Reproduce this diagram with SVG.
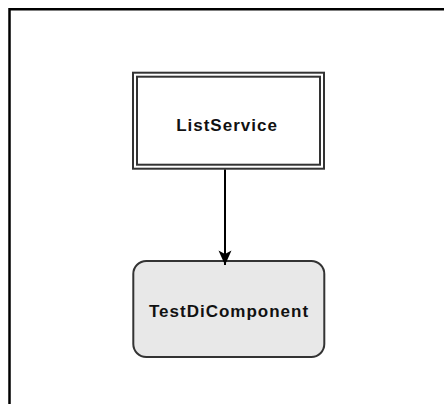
<svg xmlns="http://www.w3.org/2000/svg" width="444" height="404" viewBox="0 0 444 404">
<style>
.lbl{font-family:"Liberation Sans",Arial,sans-serif;font-size:17px;font-weight:bold;letter-spacing:1px;fill:#111;text-anchor:middle}
.b{fill:none;stroke:#333;stroke-width:2}
</style>
<defs>
<marker id="arr" markerWidth="16" markerHeight="14" refX="15" refY="7" orient="auto" markerUnits="userSpaceOnUse" viewBox="0 0 16 14">
<path d="M0.5,0.5 L15,7 L0.5,13.5 L4,7 Z" fill="#000"/>
</marker>
</defs>
<rect width="444" height="404" fill="#fff"/>
<path d="M9.5,404 V9.3 H444" fill="none" stroke="#000" stroke-width="2.5"/>
<g id="ListService">
<rect x="133" y="72.7" width="191" height="96" fill="#fff" class="b"/>
<rect x="137" y="76.7" width="183" height="88" class="b"/>
<text x="227" y="131" class="lbl">ListService</text>
</g>
<g id="TestDiComponent">
<rect x="133.3" y="261" width="191" height="96" rx="13" ry="13" fill="#e8e8e8" stroke="#333" stroke-width="2"/>
<text x="229" y="317" class="lbl">TestDiComponent</text>
</g>
<g id="connectors">
<line x1="225" y1="169.5" x2="225" y2="265" stroke="#000" stroke-width="2" marker-end="url(#arr)"/>
</g>
</svg>
